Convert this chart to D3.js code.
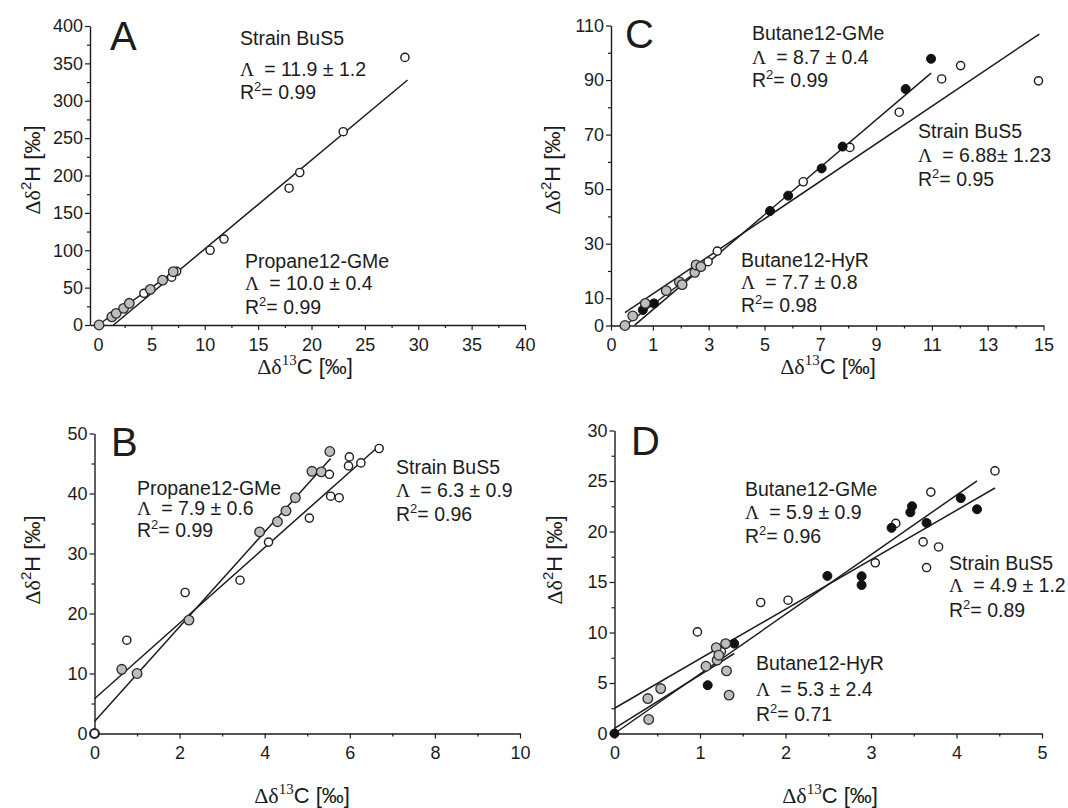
<!DOCTYPE html>
<html><head><meta charset="utf-8">
<script src="https://cdn.jsdelivr.net/npm/d3@7"></script>
<style>
body{margin:0;background:#fff;}
svg text{font-family:"Liberation Sans",Arial,Helvetica,sans-serif;fill:#1c1c1c;}
svg .serif{font-family:"Liberation Serif","Times New Roman",serif;}
</style></head><body>
<svg id="fig" width="1068" height="808"></svg>
<script>
// ---- Panel A: propane, strain BuS5 vs. Propane12-GMe ----
const strainA  = [[4.3,42.4],[6.9,64],[7.37,71.8],[10.5,100],[11.8,115],[17.9,183],[18.9,204],[22.97,258.6],[28.75,358]];
const propaneA = [[0.1,0],[1.3,11],[1.7,15.6],[2.4,22.3],[2.93,29],[4.9,47.7],[6.05,60],[7.05,71.3]];
const fitsA = [
  {name:"Strain BuS5",   lambda:11.9, err:1.2, dp:1, r2:0.99, b:-17.3, from:1.45, to:29},
  {name:"Propane12-GMe", lambda:10.0, err:0.4, dp:1, r2:0.99, b:0,     from:0,    to:7.5}
];
const xTicksA = [0,5,10,15,20,25,30,35,40];
const yTicksA = [0,50,100,150,200,250,300,350,400];

// ---- Panel B: propane, second experiment ----
const strainB  = [[0,0],[0.76,15.55],[2.13,23.5],[3.42,25.55],[4.09,31.9],[5.05,35.9],[5.52,43.2],[5.55,39.55],[5.75,39.3],[5.97,44.6],[5.99,46.1],[6.26,45.1],[6.69,47.5]];
const propaneB = [[0,0],[0.64,10.7],[1.0,10.0],[2.22,18.9],[3.88,33.6],[4.30,35.3],[4.50,37.1],[4.72,39.3],[5.11,43.7],[5.33,43.6],[5.53,47.0]];
const fitsB = [
  {name:"Propane12-GMe", lambda:7.9, err:0.6, dp:1, r2:0.99, b:2.0, from:0, to:5.55},
  {name:"Strain BuS5",   lambda:6.3, err:0.9, dp:1, r2:0.96, b:5.8, from:0, to:6.7}
];
const xTicksB = [0,2,4,6,8,10];
const yTicksB = [0,10,20,30,40,50];

// ---- Panel C: butane, strain BuS5 vs. Butane12-GMe and Butane12-HyR ----
const strainC = [[2.98,23.4],[3.31,27.3],[6.39,52.7],[8.06,65.3],[9.83,78.2],[11.35,90.4],[12.03,95.3],[14.82,89.7]];
const gmeC    = [[0.64,5.7],[1.04,8.1],[5.2,42.0],[5.85,47.6],[7.05,57.6],[7.8,65.6],[10.06,86.7],[10.97,97.8]];
const hyrC    = [[0,0],[0.28,3.5],[0.73,8.1],[1.48,12.8],[1.95,16.0],[2.05,15.0],[2.5,19.5],[2.55,22.2],[2.72,21.6]];
const fitsC = [
  {name:"Butane12-GMe", lambda:8.7,  err:0.4,  dp:1, r2:0.99, b:-2.9, from:0.35, to:10.97},
  {name:"Strain BuS5",  lambda:6.88, err:1.23, dp:2, r2:0.95, b:4.7,  from:0,    to:14.85, tight:true},
  {name:"Butane12-HyR", lambda:7.7,  err:0.8,  dp:1, r2:0.98, b:0,    from:0,    to:3.0}
];
const xTicksC = [-0.5,1,3,5,7,9,11,13,15];
const yTicksC = [0,10,30,50,70,90,110];

// ---- Panel D: butane, second experiment ----
const strainD = [[0.97,10.06],[1.25,8.1],[1.71,12.97],[2.03,13.2],[3.05,16.9],[3.29,20.8],[3.61,18.97],[3.65,16.43],[3.70,23.9],[3.79,18.47],[4.45,26.0]];
const gmeD    = [[0,0],[1.09,4.78],[1.40,8.9],[2.49,15.6],[2.89,15.57],[2.89,14.7],[3.24,20.36],[3.46,21.9],[3.48,22.5],[3.65,20.85],[4.05,23.3],[4.24,22.2]];
const hyrD    = [[0.39,3.46],[0.40,1.39],[0.54,4.45],[1.07,6.66],[1.19,8.5],[1.2,7.26],[1.22,7.75],[1.30,8.9],[1.31,6.2],[1.34,3.8]];
const fitsD = [
  {name:"Butane12-GMe", lambda:5.9, err:0.9, dp:1, r2:0.96, b:0,   from:0, to:4.24},
  {name:"Strain BuS5",  lambda:4.9, err:1.2, dp:1, r2:0.89, b:2.5, from:0, to:4.45},
  {name:"Butane12-HyR", lambda:5.3, err:2.4, dp:1, r2:0.71, b:0.5, from:0, to:1.4}
];
const xTicksD = [0,1,2,3,4,5];
const yTicksD = [0,5,10,15,20,25,30];

const svg = d3.select("#fig");
const INK = "#1c1c1c";

function marks(g, x, y, pts, kind) {
  const style = {
    open:  {r:4.1, fill:"#fff",    stroke:INK, sw:1.4},
    grey:  {r:4.8, fill:"#bdbdbd", stroke:"#2a2a2a", sw:1.3},
    black: {r:4.5, fill:"#111",    stroke:"#111", sw:1}
  }[kind];
  g.append("g").selectAll("circle").data(pts).join("circle")
    .attr("cx", d => x(d[0])).attr("cy", d => y(d[1]))
    .attr("r", style.r).attr("fill", style.fill)
    .attr("stroke", style.stroke).attr("stroke-width", style.sw);
}

function fitLine(g, x, y, f) {
  const line = d3.line().x(d => x(d)).y(d => y(f.b + f.lambda * d));
  g.append("path").attr("d", line([f.from, f.to]))
    .attr("fill", "none").attr("stroke", INK).attr("stroke-width", 1.5);
}

function annotate(g, f, x, ys, fs = 19.5) {
  g.append("text").attr("x", x).attr("y", ys[0]).attr("font-size", fs).text(f.name);
  const t = g.append("text").attr("x", x).attr("y", ys[1]).attr("font-size", fs);
  t.append("tspan").attr("class", "serif").text("\u039B");
  t.append("tspan").attr("dx", 10)
    .text("= " + f.lambda.toFixed(f.dp) + (f.tight ? "\u00B1 " : " \u00B1 ") + f.err.toFixed(f.dp));
  const r = g.append("text").attr("x", x).attr("y", ys[2]).attr("font-size", fs);
  r.append("tspan").text("R");
  r.append("tspan").attr("font-size", 13).attr("dy", -8).text("2");
  r.append("tspan").attr("dy", 8).text("= " + f.r2.toFixed(2));
}

function axes(g, x, y, o) {
  const axisStyle = sel => {
    sel.selectAll("path.domain").attr("stroke", INK).attr("stroke-width", 1.4);
    sel.selectAll(".tick line").attr("stroke", INK).attr("stroke-width", 1.2);
    sel.selectAll(".tick text").attr("font-size", 18).attr("fill", INK)
      .attr("font-family", "Liberation Sans, Arial, sans-serif");
  };
  const y0 = y(0);
  // minor ticks first, so the labelled axis sits on top
  g.append("g").attr("transform", `translate(0,${y0})`)
    .call(d3.axisBottom(x).tickValues(o.xMinor).tickSize(3).tickSizeOuter(0).tickFormat(""))
    .call(axisStyle).select(".domain").remove();
  g.append("g").attr("transform", `translate(${x.range()[0]},0)`)
    .call(d3.axisLeft(y).tickValues(o.yMinor).tickSize(3).tickSizeOuter(0).tickFormat(""))
    .call(axisStyle).select(".domain").remove();
  g.append("g").attr("transform", `translate(0,${y0})`)
    .call(d3.axisBottom(x).tickValues(o.xTicks).tickSize(5).tickSizeOuter(0).tickPadding(8)
      .tickFormat(o.xFmt || (d => d)))
    .call(axisStyle);
  const ya = g.append("g").attr("transform", `translate(${x.range()[0]},0)`)
    .call(d3.axisLeft(y).tickValues(o.yTicks).tickSize(5).tickSizeOuter(0).tickPadding(5))
    .call(axisStyle);
  ya.selectAll(".tick text").attr("x", -7);
}

function titles(g, yx, yc, xc, xb) {
  const ty = g.append("text").attr("transform", `translate(${yx},${yc}) rotate(-90)`)
    .attr("text-anchor", "middle").attr("font-size", 22);
  ty.append("tspan").attr("class", "serif").text("\u0394\u03B4");
  ty.append("tspan").attr("font-size", 15).attr("dy", -9).text("2");
  ty.append("tspan").attr("dy", 9).text("H [\u2030]");
  const tx = g.append("text").attr("transform", `translate(${xc},${xb})`)
    .attr("text-anchor", "middle").attr("font-size", 22);
  tx.append("tspan").attr("class", "serif").text("\u0394\u03B4");
  tx.append("tspan").attr("class", "serif").attr("font-size", 15).attr("dy", -9).text("13");
  tx.append("tspan").attr("dy", 9).text("C [\u2030]");
}

function letter(g, s, x, y) {
  g.append("text").attr("x", x).attr("y", y).attr("font-size", 40).text(s);
}

const range = (a, b, s) => d3.range(a, b + 1e-9, s);

// Panel A
{
  const g = svg.append("g");
  const x = d3.scaleLinear().domain([-0.75, 40]).range([90, 525]);
  const y = d3.scaleLinear().domain([0, 400]).range([325, 26]);
  axes(g, x, y, {xTicks:xTicksA, yTicks:yTicksA, xMinor:range(2.5, 37.5, 5), yMinor:range(25, 375, 50)});
  fitsA.forEach(f => fitLine(g, x, y, f));
  marks(g, x, y, strainA, "open");
  marks(g, x, y, propaneA, "grey");
  annotate(g, fitsA[0], 240, [45, 76, 99]);
  annotate(g, fitsA[1], 245, [268, 290, 314]);
  letter(g, "A", 110, 50);
  titles(g, 40, 170, 305, 374);
}
// Panel B
{
  const g = svg.append("g");
  const x = d3.scaleLinear().domain([0, 10]).range([94.5, 520]);
  const y = d3.scaleLinear().domain([0, 50]).range([733.5, 433.5]);
  axes(g, x, y, {xTicks:xTicksB, yTicks:yTicksB, xMinor:range(1, 9, 2), yMinor:range(5, 45, 10)});
  fitsB.forEach(f => fitLine(g, x, y, f));
  marks(g, x, y, propaneB, "grey");
  marks(g, x, y, strainB, "open");
  annotate(g, fitsB[0], 137, [495, 515, 537]);
  annotate(g, fitsB[1], 396, [474, 497, 521]);
  letter(g, "B", 111, 456);
  titles(g, 40, 560, 302, 803);
}
// Panel C
{
  const g = svg.append("g");
  const x = d3.scaleLinear().domain([-0.5, 15]).range([611, 1043.5]);
  const y = d3.scaleLinear().domain([0, 110]).range([325.5, 25.5]);
  axes(g, x, y, {xTicks:xTicksC, yTicks:yTicksC, xMinor:range(2, 14, 2), yMinor:range(20, 100, 20),
    xFmt: d => d < 0 ? "0" : d});
  fitsC.forEach(f => fitLine(g, x, y, f));
  marks(g, x, y, strainC, "open");
  marks(g, x, y, gmeC, "black");
  marks(g, x, y, hyrC, "grey");
  annotate(g, fitsC[0], 752, [40, 64, 87]);
  annotate(g, fitsC[1], 918, [138, 162, 186]);
  annotate(g, fitsC[2], 741, [267, 289, 312]);
  letter(g, "C", 625, 48);
  titles(g, 560, 170, 828, 374);
}
// Panel D
{
  const g = svg.append("g");
  const x = d3.scaleLinear().domain([0, 5]).range([614.5, 1042]);
  const y = d3.scaleLinear().domain([0, 30]).range([733.5, 430.5]);
  axes(g, x, y, {xTicks:xTicksD, yTicks:yTicksD, xMinor:range(0.5, 4.5, 1), yMinor:range(2.5, 27.5, 5)});
  fitsD.forEach(f => fitLine(g, x, y, f));
  marks(g, x, y, strainD, "open");
  marks(g, x, y, gmeD, "black");
  marks(g, x, y, hyrD, "grey");
  annotate(g, fitsD[0], 745, [496, 519, 543]);
  annotate(g, fitsD[1], 949, [570, 592, 617]);
  annotate(g, fitsD[2], 756, [670, 696, 721]);
  letter(g, "D", 631, 455);
  titles(g, 562, 560, 830, 803);
}
</script>
</body></html>
